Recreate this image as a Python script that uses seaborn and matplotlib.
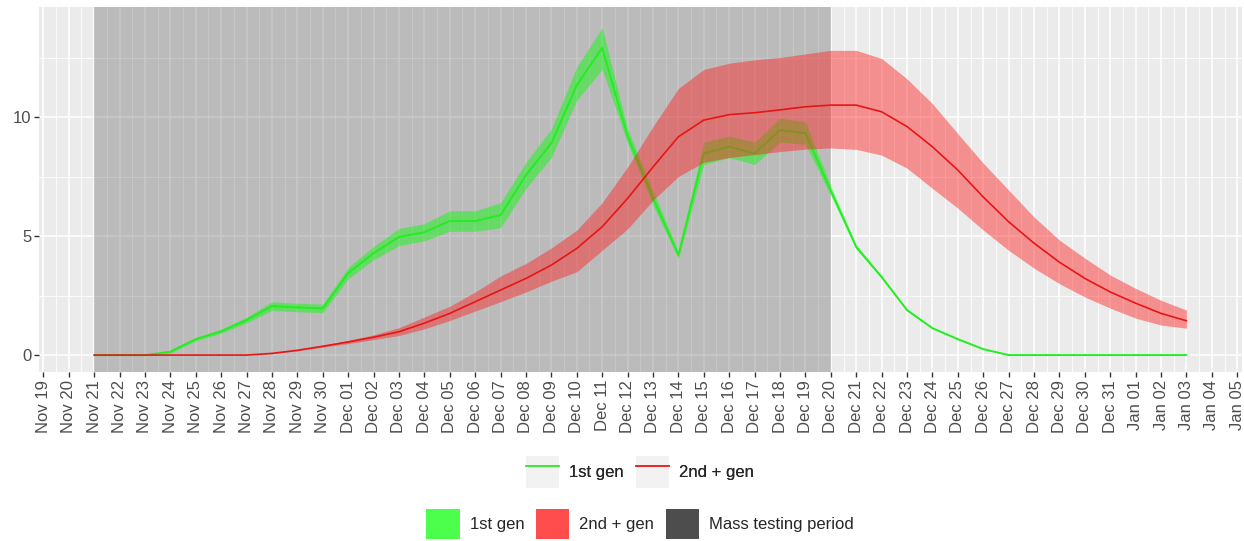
import numpy as np
import pandas as pd
import seaborn as sns
import matplotlib
matplotlib.use("Agg")
from matplotlib import pyplot as plt
from matplotlib import dates as mdates
from matplotlib.patches import Patch
from matplotlib.lines import Line2D
from matplotlib.legend_handler import HandlerTuple

# daily values, Nov 21 2020 .. Jan 03 2021
dates = pd.date_range("2020-11-21", "2021-01-03", freq="D")

first_gen = [0, 0, 0, 0.14, 0.67, 1.0, 1.47, 2.06, 2.0, 1.96,
             3.44, 4.28, 4.96, 5.16, 5.63, 5.63, 5.88, 7.56, 8.9, 11.34,
             12.9, 9.2, 6.6, 4.2, 8.47, 8.75, 8.47, 9.45, 9.32, 6.9,
             4.54, 3.28, 1.89, 1.13, 0.67, 0.25, 0, 0, 0, 0,
             0, 0, 0, 0]
first_lo = [0, 0, 0, 0.08, 0.6, 0.92, 1.35, 1.88, 1.82, 1.78,
            3.2, 4.0, 4.6, 4.8, 5.2, 5.2, 5.35, 7.0, 8.3, 10.7,
            12.0, 8.9, 6.3, 4.05, 8.0, 8.3, 8.0, 8.95, 8.85, 6.7,
            4.45, 3.22, 1.85, 1.1, 0.65, 0.24, 0, 0, 0, 0,
            0, 0, 0, 0]
first_hi = [0, 0, 0, 0.2, 0.74, 1.08, 1.59, 2.24, 2.18, 2.14,
            3.68, 4.56, 5.32, 5.52, 6.06, 6.06, 6.4, 8.1, 9.5, 12.1,
            13.75, 9.5, 6.9, 4.35, 8.95, 9.2, 8.95, 9.95, 9.8, 7.1,
            4.63, 3.34, 1.93, 1.16, 0.69, 0.26, 0, 0, 0, 0,
            0, 0, 0, 0]

second_gen = [0, 0, 0, 0, 0, 0, 0, 0.07, 0.2, 0.37,
              0.55, 0.75, 0.98, 1.34, 1.75, 2.24, 2.73, 3.22, 3.78, 4.48,
              5.39, 6.58, 7.9, 9.17, 9.87, 10.1, 10.18, 10.3, 10.43, 10.5,
              10.5, 10.22, 9.6, 8.75, 7.77, 6.64, 5.6, 4.7, 3.9, 3.22,
              2.65, 2.18, 1.75, 1.44]
second_lo = [0, 0, 0, 0, 0, 0, 0, 0.06, 0.18, 0.33,
             0.48, 0.65, 0.82, 1.1, 1.45, 1.85, 2.24, 2.65, 3.1, 3.5,
             4.4, 5.3, 6.5, 7.5, 8.1, 8.3, 8.42, 8.55, 8.65, 8.7,
             8.64, 8.4, 7.85, 7.0, 6.17, 5.25, 4.4, 3.65, 3.0, 2.44,
             1.97, 1.55, 1.26, 1.13]
second_hi = [0, 0, 0, 0, 0, 0, 0, 0.08, 0.22, 0.4,
             0.62, 0.85, 1.15, 1.6, 2.05, 2.65, 3.32, 3.85, 4.5, 5.25,
             6.4, 7.9, 9.6, 11.2, 12.0, 12.26, 12.4, 12.5, 12.65, 12.8,
             12.8, 12.46, 11.6, 10.56, 9.3, 8.06, 6.93, 5.8, 4.83, 4.07,
             3.36, 2.8, 2.3, 1.89]

mass_start = pd.Timestamp("2020-11-21")
mass_end = pd.Timestamp("2020-12-20")

GREEN = "#22EE22"
RED = "#E81515"
FS = 12

df = pd.DataFrame({
    "date": list(dates) * 2,
    "value": first_gen + second_gen,
    "group": ["1st gen"] * len(dates) + ["2nd + gen"] * len(dates),
})

sns.set_style("darkgrid", {"axes.facecolor": "#EBEBEB", "grid.color": "white"})
plt.rcParams["font.family"] = ["Liberation Sans", "DejaVu Sans"]

fig = plt.figure(figsize=(12.44, 5.41), dpi=100)
ax = fig.add_axes([0.0314, 0.312, 0.9666, 0.675])

ax.axvspan(mass_start, mass_end, color="#4D4D4D", alpha=0.3, lw=0, zorder=1)

# green below, red ribbon on top of green line, red line on top
ax.fill_between(dates, first_lo, first_hi, color="#00FF00", alpha=0.45, lw=0, zorder=2)
sns.lineplot(data=df[df.group == "1st gen"], x="date", y="value",
             color=GREEN, lw=1.4, ax=ax, zorder=3)
ax.fill_between(dates, second_lo, second_hi, color="#FF2020", alpha=0.45, lw=0, zorder=4)
sns.lineplot(data=df[df.group == "2nd + gen"], x="date", y="value",
             color=RED, lw=1.2, ax=ax, zorder=5)

ax.set_xlim(pd.Timestamp("2020-11-19") - pd.Timedelta(hours=4),
            pd.Timestamp("2021-01-05") + pd.Timedelta(hours=4))
ax.set_ylim(-0.72, 14.62)
ax.set_yticks([0, 5, 10])
ax.set_yticks([2.5, 7.5, 12.5], minor=True)
ax.xaxis.set_major_locator(mdates.DayLocator())
ax.xaxis.set_minor_locator(mdates.HourLocator(byhour=[12]))
ax.xaxis.set_major_formatter(mdates.DateFormatter("%b %d"))
ax.grid(which="major", color="white", lw=1.1)
ax.grid(which="minor", color="white", lw=0.6)
ax.set_xlabel("")
ax.set_ylabel("")
ax.tick_params(axis="both", which="major", length=3.5, width=1, color="#333333",
               labelsize=FS, labelcolor="#4D4D4D", pad=2, bottom=True, left=True)
ax.tick_params(which="minor", length=0)
plt.setp(ax.get_xticklabels(), rotation=90, va="top", ha="center")
for s in ax.spines.values():
    s.set_visible(False)

# legends centred under the panel
legend_x = 0.5145

key_bg = Patch(facecolor="#F2F2F2", edgecolor="none")
line_handles = [(key_bg, Line2D([], [], color=GREEN, lw=1.3)),
                (key_bg, Line2D([], [], color=RED, lw=1.3))]
leg1 = fig.legend(line_handles, ["1st gen", "2nd + gen"], loc="center",
                  bbox_to_anchor=(legend_x, 0.128), ncol=2, frameon=False,
                  fontsize=FS, handlelength=2.0, handleheight=2.6,
                  handletextpad=0.6, columnspacing=0.7,
                  handler_map={tuple: HandlerTuple(ndivide=1, pad=0)})

fill_handles = [Patch(facecolor="#4DFF4D", edgecolor="none"),
                Patch(facecolor="#FF4D4D", edgecolor="none"),
                Patch(facecolor="#4D4D4D", edgecolor="none")]
fig.legend(fill_handles, ["1st gen", "2nd + gen", "Mass testing period"], loc="center",
           bbox_to_anchor=(legend_x, 0.031), ncol=3, frameon=False,
           fontsize=FS, handlelength=2.0, handleheight=2.4,
           handletextpad=0.6, columnspacing=0.7)
fig.add_artist(leg1)

fig.savefig("out.png", dpi=100, facecolor="white")
